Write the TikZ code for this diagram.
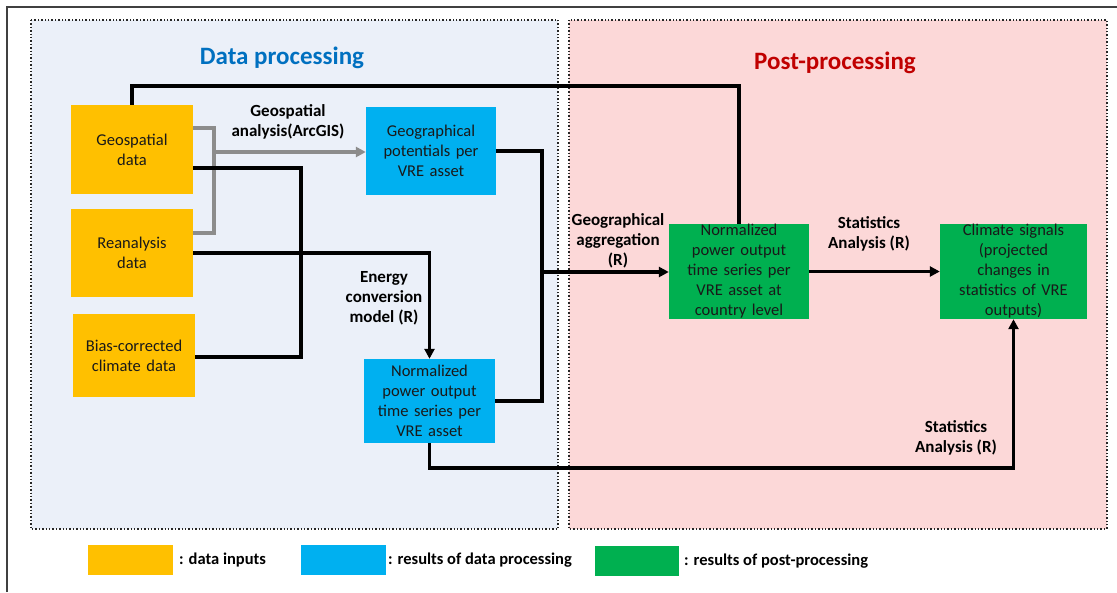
\documentclass[tikz,border=0pt]{standalone}
\usepackage{fontspec}
\setmainfont{Carlito}
\usetikzlibrary{arrows.meta}
\definecolor{cOrange}{HTML}{FFC000}
\definecolor{cBlue}{HTML}{00B0F0}
\definecolor{cGreen}{HTML}{00B050}
\definecolor{cBgBlue}{HTML}{EBF0F9}
\definecolor{cBgPink}{HTML}{FCD8D8}
\definecolor{cTitleBlue}{HTML}{0070C0}
\definecolor{cTitleRed}{HTML}{C00000}
\definecolor{cGrayLine}{HTML}{8C8C8C}
\definecolor{cFrame}{HTML}{404040}
\begin{document}
\begin{tikzpicture}[x=1pt,y=-1pt,
  boxtxt/.style={font=\fontsize{16.5}{20}\selectfont, text=black!90},
  databox/.style={boxtxt, inner sep=0pt, align=center, text width=#1},
  inbox/.style={fill=cOrange},
  resbox/.style={fill=cBlue},
  postbox/.style={fill=cGreen},
  lbl/.style={font=\bfseries\fontsize{17}{20}\selectfont, align=center, inner sep=0pt},
  keytxt/.style={font=\bfseries\fontsize{16.5}{20}\selectfont, inner sep=0pt},
  bline/.style={draw=black, line width=3.3pt},
  gline/.style={draw=cGrayLine, line width=3.3pt},
  arr/.style={-{Triangle[length=10pt,width=10pt]}},
  panel/.style={dotted, line width=1.4pt, draw=black!85},
  title/.style={font=\bfseries\fontsize{25}{28}\selectfont, inner sep=0pt}
]
\useasboundingbox (0,0) rectangle (1117,592);
\fill[white] (0,0) rectangle (1117,592);
% outer frame (top and left only)
\draw[cFrame, line width=1.6pt] (7,592) -- (7,7) -- (1117,7);
% panels
\draw[panel, fill=cBgBlue] (31,20) rectangle (558,529);
\draw[panel, fill=cBgPink] (569,20) rectangle (1107,529);
\node[title, text=cTitleBlue] (t1) at (282,58) {Data processing};
\node[title, text=cTitleRed] (t2) at (835,63) {Post-processing};

% boxes
\node[databox=120pt, inbox, minimum width=122pt, minimum height=89pt] (geo) at (132,149.5) {Geospatial\\data};
\node[databox=120pt, inbox, minimum width=122pt, minimum height=88pt] (rea) at (132,253) {Reanalysis\\data};
\node[databox=120pt, inbox, minimum width=122pt, minimum height=83pt] (bias) at (134,355.5) {Bias-corrected\\climate data};
\node[databox=128pt, resbox, minimum width=130pt, minimum height=88pt] (pot) at (431,151) {Geographical\\potentials per\\VRE asset};
\node[databox=129pt, resbox, minimum width=131pt, minimum height=84pt] (nb) at (429.5,401) {Normalized\\power output\\time series per\\VRE asset};
\node[databox=138pt, postbox, minimum width=140pt, minimum height=95pt] (g1) at (739,271.5) {Normalized\\power output\\time series per\\VRE asset at\\country level};
\node[databox=145pt, postbox, minimum width=147pt, minimum height=95pt] (g2) at (1013.5,271.5) {Climate signals\\(projected\\changes in\\statistics of VRE\\outputs)};

% helper coordinates
\coordinate (top) at (0,86);
\coordinate (gb1) at (214,128);
\coordinate (gb2) at (214,233);
\coordinate (gj) at (214,152);
\coordinate (j1) at (301,168);
\coordinate (j2) at (301,357);
\coordinate (r1) at (0,253);
\coordinate (vx) at (542,272);
\coordinate (bot) at (0,468);

% connectors
\draw[bline] (geo.north) -- (geo.north |- top) -| (g1.north);
\draw[gline] (gb1 -| geo.east) -- (gb1) -- (gb2) -- (gb2 -| rea.east);
\draw[gline, arr] (gj) -- (gj -| pot.west);
\draw[bline] (j1 -| geo.east) -- (j1) -- (j2) -- (j2 -| bias.east);
\draw[bline, arr] (r1 -| rea.east) -| (nb.north);
\draw[bline] (pot.east) -| (vx |- nb.east) -- (nb.east);
\draw[bline, arr] (vx |- pot.east) -- (vx) -- (g1.west |- vx);
\draw[bline, arr] (g1.east) -- (g2.west);
\draw[bline, arr] (nb.south) -- (nb.south |- bot) -| (g2.south);

% labels
\node[lbl] (l1) at (288,122) {Geospatial\\analysis(ArcGIS)};
\node[lbl] (l2) at (384,298) {Energy\\conversion\\model (R)};
\node[lbl] (l3) at (618,241) {Geographical\\aggregation\\(R)};
\node[lbl] (l4) at (869,234) {Statistics\\Analysis (R)};
\node[lbl] (l5) at (956,438) {Statistics\\Analysis (R)};

% legend
\node[inbox, minimum width=85pt, minimum height=30pt, inner sep=0pt] (k1) at (130.5,560) {};
\node[keytxt, anchor=west] (k1t) at (179,560) {: data inputs};
\node[resbox, minimum width=85pt, minimum height=30pt, inner sep=0pt] (k2) at (343.5,560) {};
\node[keytxt, anchor=west] (k2t) at (388,560) {: results of data processing};
\node[postbox, minimum width=84pt, minimum height=30pt, inner sep=0pt] (k3) at (637,561) {};
\node[keytxt, anchor=west] (k3t) at (684,561) {: results of post-processing};
\end{tikzpicture}
\end{document}
